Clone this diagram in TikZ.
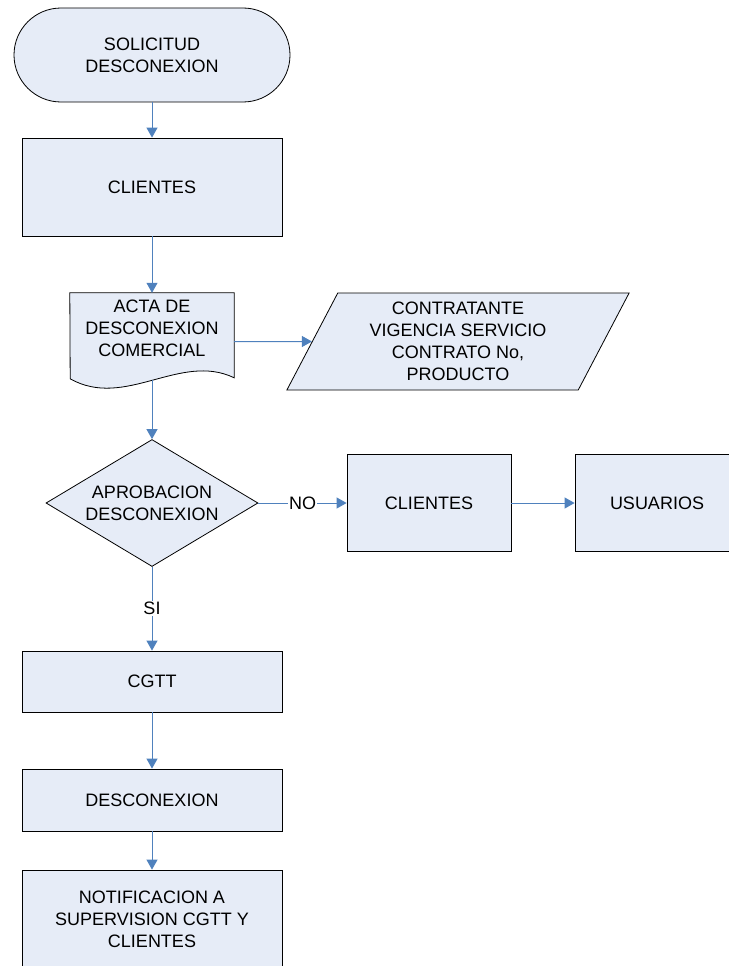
\documentclass[tikz,border=0pt]{standalone}
\usepackage{fontspec}
\setmainfont{Liberation Sans}
\usetikzlibrary{shapes.geometric,arrows.meta}
\definecolor{boxfill}{RGB}{230,236,247}
\definecolor{flowblue}{RGB}{79,129,189}
\tikzset{every node/.style={align=center}, >={Triangle[length=10pt,width=11pt]}, font=\fontsize{18}{22}\selectfont,
  terminal/.style={draw, line width=0.8pt, fill=boxfill, rounded corners=47pt, minimum width=276pt, minimum height=94pt},
  process/.style={draw, line width=0.8pt, fill=boxfill, minimum width=260pt, inner sep=0pt},
  smallproc/.style={process, minimum width=164pt, minimum height=97pt},
  doctext/.style={fill=boxfill, inner sep=0pt, minimum width=164pt, minimum height=70pt},
  docline/.style={draw, line width=0.8pt},
  datastore/.style={draw, line width=0.8pt, fill=boxfill, trapezium, trapezium left angle=64.6, trapezium right angle=115.4,
    trapezium stretches=true, minimum width=343pt, minimum height=97pt, inner sep=0pt},
  decision/.style={draw, line width=0.8pt, fill=boxfill, diamond, aspect=1.67, inner sep=0pt, minimum width=212pt, minimum height=127pt},
  flow/.style={->, color=flowblue, line width=1pt},
  answer/.style={fill=white, text=black, inner sep=1pt}}
\begin{document}
\begin{tikzpicture}[node distance=132pt]
            \useasboundingbox (0,0) rectangle (728pt,-966pt);
            \node [terminal] (s0) at (152pt,-55pt) {SOLICITUD\\DESCONEXION};
            \node [process, minimum height=98pt] (c1) [below of = s0] {CLIENTES};
            \node [doctext] (a0) [below of = c1, node distance=141pt] {ACTA DE\\DESCONEXION\\COMERCIAL};
            \node [datastore] (p0) at (458pt,-341.5pt) {CONTRATANTE\\VIGENCIA SERVICIO\\CONTRATO No,\\PRODUCTO};
            \node [decision] (d0) [below of = a0, node distance=175pt] {APROBACION\\DESCONEXION};
            \node [smallproc] (c2) [right of = d0, node distance=277pt] {CLIENTES};
            \node [smallproc] (u0) [right of = c2, node distance=228pt] {USUARIOS};
            \node [process, minimum height=61pt] (g0) [below of = d0, node distance=178.5pt] {CGTT};
            \node [process, minimum height=62pt] (x0) [below of = g0, node distance=118.5pt] {DESCONEXION};
            \node [process, minimum height=98pt] (n0) [below of = x0, node distance=119pt] {NOTIFICACION A\\SUPERVISION CGTT Y\\CLIENTES};

            % hoja del acta (borde ondulado)
            \fill [boxfill] (a0.south east) -- ++(0,-15pt)
                .. controls +(-54pt,26pt) and +(55pt,-31pt) .. ++(-164pt,-1pt) -- (a0.south west) -- cycle;
            \draw [docline] (a0.north west) -- (a0.north east) -- ++(0,-85pt)
                .. controls +(-54pt,26pt) and +(55pt,-31pt) .. ++(-164pt,-1pt) -- cycle;
            \coordinate (a0bot) at ([yshift=-17pt]a0.south);

            \path[flow] (s0) edge (c1)
                (c1) edge (a0)
                (a0.east |- p0) edge (p0)
                (a0bot) edge (d0)
                (d0) edge node [answer] {NO} (c2)
                    edge node [answer] {SI} (g0)
                (c2) edge (u0)
                (g0) edge (x0)
                (x0) edge (n0);
        \end{tikzpicture}
\end{document}
